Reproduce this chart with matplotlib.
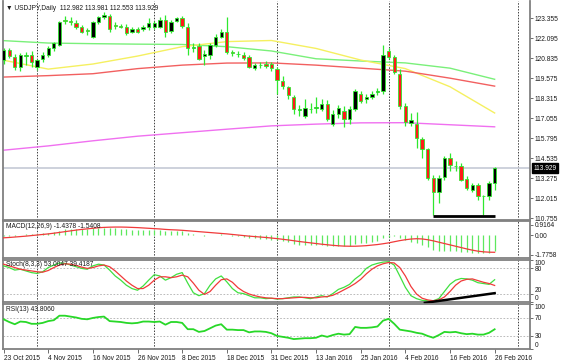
import matplotlib
matplotlib.use('Agg')
import matplotlib.pyplot as plt
import numpy as np

# ---------------- data ----------------
date_labels = ["23 Oct 2015", "4 Nov 2015", "16 Nov 2015", "26 Nov 2015", "8 Dec 2015",
               "18 Dec 2015", "31 Dec 2015", "13 Jan 2016", "25 Jan 2016", "4 Feb 2016",
               "16 Feb 2016", "26 Feb 2016"]
date_label_idx = [0, 8, 16, 24, 32, 40, 48, 56, 64, 72, 80, 88]
separator_idx = [6, 27, 49, 69, 92.2]

opens = [120.70, 121.35, 120.92, 120.29, 121.00, 121.03, 120.29, 120.77, 121.03, 121.45,
         121.66, 123.25, 123.17, 123.08, 122.78, 122.60, 122.19, 123.14, 123.42, 123.46,
         122.90, 122.87, 122.78, 122.50, 122.65, 122.66, 122.78, 122.83, 122.83, 123.25,
         122.57, 123.20, 123.35, 122.83, 121.50, 121.60, 121.00, 121.03, 121.66, 122.19,
         122.50, 121.20, 121.10, 121.03, 120.92, 120.20, 120.40, 120.50, 120.50, 120.18,
         119.40, 119.00, 118.38, 117.55, 117.22, 117.64, 117.70, 117.64, 117.96, 116.69,
         117.30, 117.54, 117.00, 117.64, 118.60, 118.30, 118.38, 118.70, 118.80, 121.28,
         120.92, 119.86, 117.80, 116.79, 116.69, 115.78, 115.10, 113.30, 112.40, 113.37,
         114.57, 114.05, 114.05, 113.24, 112.56, 112.88, 112.14, 112.14, 112.982]
highs = [121.50, 121.50, 121.13, 121.17, 121.24, 121.30, 120.80, 121.20, 121.60, 121.85,
         123.20, 123.50, 123.40, 123.25, 122.95, 122.75, 123.20, 123.50, 123.75, 123.60,
         123.10, 123.00, 123.00, 122.80, 122.80, 122.95, 123.35, 123.20, 123.45, 123.57,
         123.25, 123.45, 123.46, 123.04, 121.77, 121.77, 121.35, 121.77, 122.35, 122.70,
         123.45, 121.35, 121.30, 121.20, 121.05, 120.55, 120.60, 120.65, 120.60, 120.30,
         119.70, 119.10, 118.50, 117.90, 118.30, 118.00, 118.40, 118.30, 118.20, 117.60,
         117.90, 117.85, 117.85, 118.90, 118.80, 118.60, 118.75, 118.95, 121.66, 121.45,
         121.03, 120.18, 118.00, 117.40, 117.43, 115.90, 115.20, 113.50, 113.50, 114.68,
         114.89, 114.36, 114.26, 113.40, 112.99, 112.99, 112.25, 113.09, 113.981]
lows = [120.50, 120.85, 120.07, 120.00, 120.40, 120.30, 120.10, 120.60, 120.90, 121.30,
        121.60, 123.00, 122.95, 122.70, 122.40, 122.30, 122.10, 123.00, 123.30, 122.50,
        122.70, 122.75, 122.30, 122.40, 122.40, 122.55, 122.60, 122.70, 122.72, 122.20,
        122.45, 123.10, 122.72, 121.03, 121.24, 120.70, 120.40, 120.80, 121.55, 122.10,
        121.10, 120.95, 120.90, 120.75, 120.20, 120.10, 120.25, 120.25, 120.05, 118.60,
        118.90, 118.30, 117.30, 117.20, 117.10, 117.40, 117.40, 117.50, 116.90, 116.58,
        117.10, 116.48, 116.70, 117.50, 118.00, 118.00, 118.25, 118.55, 118.60, 120.77,
        119.86, 117.64, 116.60, 116.60, 115.21, 114.57, 113.20, 110.98, 111.70, 113.20,
        113.73, 113.73, 113.09, 112.56, 112.45, 111.93, 110.98, 111.93, 112.553]
closes = [121.35, 120.97, 120.29, 121.03, 121.05, 120.60, 120.71, 121.03, 121.49, 121.77,
          123.14, 123.20, 123.12, 122.83, 122.50, 122.57, 123.14, 123.40, 123.57, 122.66,
          122.87, 122.83, 122.44, 122.65, 122.50, 122.83, 123.04, 123.08, 123.25, 122.51,
          123.14, 123.35, 122.87, 121.45, 121.55, 120.80, 121.10, 121.66, 122.19, 122.51,
          121.24, 121.18, 121.12, 120.88, 120.30, 120.40, 120.42, 120.35, 120.20, 119.44,
          119.10, 118.50, 117.64, 117.64, 117.70, 117.67, 117.75, 117.96, 117.00, 117.32,
          117.70, 117.00, 117.64, 118.80, 118.17, 118.40, 118.60, 118.80, 121.03, 120.92,
          119.97, 117.80, 116.80, 116.94, 115.84, 115.10, 113.30, 112.40, 113.30, 114.57,
          114.09, 114.04, 113.20, 112.67, 112.84, 112.14, 112.16, 112.98, 113.929]

ma_idx = [0, 8, 16, 24, 32, 40, 48, 56, 64, 72, 80, 88]
ma_green = [121.94, 121.79, 121.75, 121.72, 121.70, 121.56, 121.29, 120.80, 120.66, 120.54, 120.21, 119.51]
ma_yellow = [120.71, 120.15, 120.47, 120.97, 121.56, 121.88, 121.95, 121.45, 120.72, 120.18, 119.04, 117.39]
ma_red = [119.65, 119.74, 119.86, 120.18, 120.40, 120.53, 120.54, 120.40, 120.21, 120.02, 119.58, 119.08]
ma_magenta = [115.05, 115.32, 115.64, 115.93, 116.15, 116.37, 116.58, 116.69, 116.77, 116.78, 116.65, 116.52]

support_level = 110.90
support_span = [77, 88]
price_ticks = [123.355, 122.095, 120.835, 119.575, 118.315, 117.055, 115.795, 114.535,
               113.275, 112.015, 110.755]
last_price = 113.929

macd_main = [-0.10, -0.08, -0.06, 0.02, 0.06, 0.08, 0.10, 0.14, 0.20, 0.27,
             0.40, 0.50, 0.56, 0.58, 0.57, 0.55, 0.60, 0.64, 0.66, 0.62,
             0.60, 0.57, 0.52, 0.48, 0.45, 0.43, 0.43, 0.43, 0.44, 0.38,
             0.38, 0.40, 0.36, 0.22, 0.12, 0.00, -0.06, -0.04, 0.02, 0.06,
             -0.01, -0.07, -0.12, -0.17, -0.25, -0.29, -0.32, -0.35, -0.40, -0.48,
             -0.55, -0.64, -0.78, -0.86, -0.90, -0.92, -0.92, -0.90, -0.95, -0.98,
             -0.96, -0.98, -0.94, -0.82, -0.75, -0.68, -0.60, -0.52, -0.30, -0.15,
             -0.12, -0.28, -0.45, -0.58, -0.74, -0.90, -1.10, -1.32, -1.42, -1.43,
             -1.45, -1.47, -1.50, -1.55, -1.57, -1.60, -1.62, -1.58, -1.4378]
macd_signal = [-0.25, -0.22, -0.18, -0.14, -0.10, -0.05, 0.00, 0.05, 0.10, 0.16,
               0.23, 0.30, 0.37, 0.44, 0.50, 0.55, 0.60, 0.65, 0.68, 0.70,
               0.71, 0.71, 0.70, 0.68, 0.66, 0.63, 0.60, 0.57, 0.54, 0.50,
               0.47, 0.45, 0.42, 0.38, 0.34, 0.30, 0.26, 0.22, 0.18, 0.14,
               0.10, 0.05, 0.00, -0.05, -0.10, -0.14, -0.18, -0.22, -0.27, -0.32,
               -0.38, -0.44, -0.51, -0.58, -0.64, -0.70, -0.76, -0.82, -0.87, -0.92,
               -0.96, -0.99, -1.00, -1.00, -0.98, -0.95, -0.90, -0.85, -0.78, -0.70,
               -0.60, -0.50, -0.42, -0.36, -0.33, -0.35, -0.42, -0.52, -0.64, -0.76,
               -0.88, -1.00, -1.12, -1.24, -1.35, -1.44, -1.50, -1.53, -1.5408]
macd_ticks = [0.9164, 0.0, -1.7758]

stoch_k = [86, 82, 76, 78, 74, 70, 68, 72, 82, 88, 93, 92, 88, 84, 80, 78, 86, 90, 88, 76,
           62, 52, 40, 32, 28, 38, 52, 65, 62, 52, 58, 66, 70, 45, 22, 15, 20, 40, 55, 62,
           48, 32, 22, 20, 15, 10, 10, 8, 9, 7, 8, 10, 12, 12, 10, 8, 12, 15, 12, 20,
           30, 35, 42, 55, 65, 80, 88, 92, 95, 96, 88, 62, 35, 15, 8, 4, 3, 3, 8, 25,
           42, 52, 56, 55, 52, 46, 44, 42, 53.0047]
stoch_d = [90, 86, 82, 78, 76, 74, 72, 71, 75, 82, 88, 91, 90, 87, 83, 80, 82, 86, 88, 84,
           74, 62, 50, 40, 32, 32, 40, 52, 60, 60, 58, 60, 64, 60, 45, 28, 18, 25, 40, 53,
           55, 47, 34, 25, 19, 15, 12, 10, 9, 8, 8, 9, 10, 11, 11, 10, 10, 12, 13, 16,
           22, 29, 36, 44, 54, 67, 78, 86, 91, 94, 93, 82, 62, 37, 19, 9, 5, 3, 5, 12,
           25, 40, 50, 54, 55, 51, 47, 44, 39.4187]
stoch_trend = [[75.5, 88.0], [-2.0, 21.0]]

rsi = [66, 60, 55, 61, 60, 56, 56, 58, 62, 64, 74, 74, 72, 70, 67, 66, 69, 71, 72, 62,
       61, 60, 58, 57, 58, 61, 61, 60, 61, 54, 60, 60, 58, 44, 44, 38, 40, 46, 52, 55,
       43, 43, 42, 42, 37, 39, 39, 38, 35, 29, 27, 25, 22, 23, 24, 24, 25, 30, 27, 31,
       34, 32, 33, 49, 47, 47, 48, 50, 63, 67, 56, 43, 41, 39, 36, 34, 29, 25, 31, 38,
       37, 38, 35, 33, 34, 32, 32, 36, 43.806]

# ---------------- style ----------------
W, H = 566, 362
LIME = '#2ee82e'
BODY_RED = '#ff1a1a'
TXT = '#1a1a1a'
FS = 4.8
plt.rcParams['font.family'] = ['Liberation Sans', 'DejaVu Sans']

fig = plt.figure(figsize=(W / 100, H / 100), dpi=100)
fig.patch.set_facecolor('white')

X0, X1 = 3, 530
PX_PER_BAR, FIRST_PX = 5.58, 3.6
xlim = ((X0 - FIRST_PX) / PX_PER_BAR, (X1 - FIRST_PX) / PX_PER_BAR)


def add_panel(top, bottom):
    ax = fig.add_axes([X0 / W, 1 - bottom / H, (X1 - X0) / W, (bottom - top) / H])
    ax.set_xlim(*xlim)
    ax.set_facecolor('white')
    for s in ax.spines.values():
        s.set_color('#808080')
        s.set_linewidth(1.3)
    ax.set_xticks([])
    ax.yaxis.tick_right()
    ax.tick_params(axis='y', labelsize=FS, length=2, width=0.6, pad=1.5,
                   colors='#555555', labelcolor=TXT)
    for xi in separator_idx:
        ax.axvline(xi, color='#404040', lw=0.7, ls=(0, (1.5, 1.5)), zorder=1)
    return ax


# ---- main price panel ----
ax = add_panel(1, 220)
ax.spines['top'].set_visible(False)
ax.set_ylim(110.659, 124.434)
idx = np.arange(len(closes))
ax.axhline(last_price, color='#c5cad6', lw=1.2, zorder=1)

ax.plot(ma_idx, ma_green, color='#7af07a', lw=1.0, zorder=2)
ax.plot(ma_idx, ma_yellow, color='#f5f060', lw=1.0, zorder=2)
ax.plot(ma_idx, ma_red, color='#f26060', lw=1.0, zorder=2)
ax.plot(ma_idx, ma_magenta, color='#f070f0', lw=1.0, zorder=2)

o = np.array(opens); c = np.array(closes)
ax.vlines(idx, lows, highs, color=LIME, lw=0.9, zorder=3)
body_bottom = np.minimum(o, c)
body_h = np.maximum(np.abs(c - o), 0.03)
colors = ['black' if cc > oo else BODY_RED for oo, cc in zip(o, c)]
ax.bar(idx, body_h, bottom=body_bottom, width=0.6, color=colors,
       edgecolor=LIME, linewidth=0.6, zorder=4)

ax.hlines(support_level, support_span[0], support_span[1], color='black', lw=2.0, zorder=5)

ax.set_yticks(price_ticks)
ax.set_yticklabels([f"{v:.3f}" for v in price_ticks])
ax.annotate(f"{last_price:.3f}", xy=(1.0, last_price), xycoords=('axes fraction', 'data'),
            xytext=(2.3, 0), textcoords='offset points', fontsize=FS, color='white',
            va='center', ha='left', annotation_clip=False,
            bbox=dict(boxstyle='square,pad=0.18', fc='black', ec='black'))
ax.text(0.006, 0.967, "\u25bc USDJPY,Daily  112.982 113.981 112.553 113.929",
        transform=ax.transAxes, fontsize=FS, color=TXT, va='center', ha='left', zorder=6)

# ---- MACD panel ----
axm = add_panel(221, 258)
axm.set_ylim(-2.05, 1.25)
axm.vlines(idx, 0, macd_main, color='#5ee85e', lw=0.9, zorder=2)
axm.plot(idx, macd_signal, color='#f03a3a', lw=0.9, zorder=3)
axm.set_yticks(macd_ticks)
axm.set_yticklabels(['0.9164', '0.00', '-1.7758'])
axm.text(0.006, 0.84, "MACD(12,26,9) -1.4378 -1.5408", transform=axm.transAxes,
         fontsize=FS, color=TXT, va='center', ha='left')

# ---- Stochastic panel ----
axs = add_panel(260, 302)
axs.set_ylim(0, 100)
for lv in (80, 20):
    axs.axhline(lv, color='#b0b0b0', lw=0.6, ls=(0, (2, 2)), zorder=1)
axs.plot(idx, stoch_k, color='#40e040', lw=0.9, zorder=3)
axs.plot(idx, stoch_d, color='#f03a3a', lw=0.9, zorder=3)
axs.plot(stoch_trend[0], stoch_trend[1], color='black', lw=1.8, zorder=4, clip_on=False)
axs.set_yticks([100, 80, 20, 0])
tl = axs.get_yticklabels()
tl[0].set_va('top'); tl[2].set_va('bottom'); tl[3].set_va('bottom')
axs.text(0.006, 0.9, "Stoch(8,3,3) 53.0047 39.4187", transform=axs.transAxes,
         fontsize=FS, color=TXT, va='center', ha='left')

# ---- RSI panel ----
axr = add_panel(304, 349)
axr.set_ylim(0, 100)
for lv in (70, 30):
    axr.axhline(lv, color='#b0b0b0', lw=0.6, ls=(0, (2, 2)), zorder=1)
axr.plot(idx, rsi, color='#28d828', lw=1.3, zorder=3)
axr.set_yticks([100, 70, 30, 0])
tl = axr.get_yticklabels()
tl[0].set_va('top'); tl[3].set_va('bottom')
axr.text(0.006, 0.88, "RSI(13) 43.8060", transform=axr.transAxes,
         fontsize=FS, color=TXT, va='center', ha='left')

axr.set_xticks(date_label_idx)
axr.set_xticklabels(date_labels)
axr.tick_params(axis='x', labelsize=FS, length=3, width=0.6, pad=1.5,
                colors='#555555', labelcolor=TXT)
for t in axr.get_xticklabels():
    t.set_ha('left')

fig.savefig('out.png', dpi=100, facecolor='white')
